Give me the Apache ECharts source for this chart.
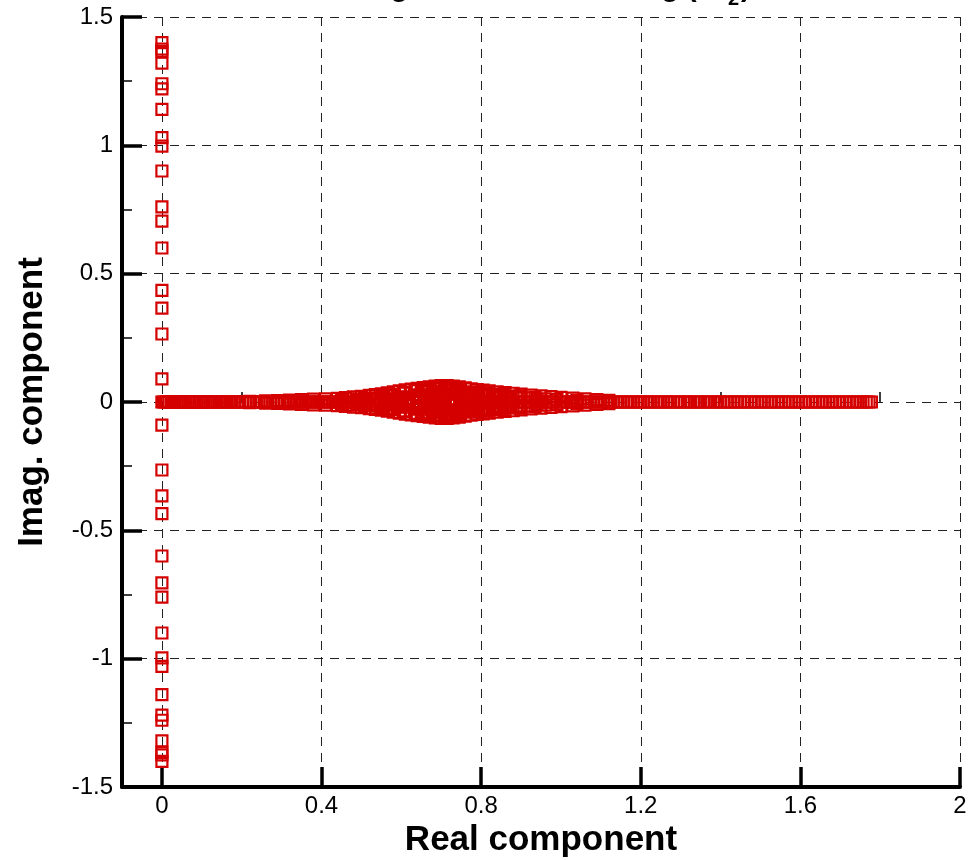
<!DOCTYPE html>
<html>
<head>
<meta charset="utf-8">
<script src="https://cdn.jsdelivr.net/npm/echarts@6/dist/echarts.min.js"></script>
<style>
  html, body { margin: 0; padding: 0; background: #fff; }
  #chart { width: 980px; height: 860px; }
</style>
</head>
<body>
<div id="chart"></div>
<script>
// Axis tick positions
const xTicks = [0, 0.4, 0.8, 1.2, 1.6, 2];
const xMinorTicks = [0.2, 0.6, 1.0, 1.4, 1.8];

// Purely imaginary eigenvalues (conjugate pairs, real part 0): positive imaginary parts
const imagAxisValues = [0.09, 0.265, 0.366, 0.435, 0.60, 0.705, 0.76, 0.90, 0.997, 1.03,
  1.14, 1.22, 1.24, 1.32, 1.365, 1.375, 1.40];

// Real eigenvalues (imaginary part 0)
const realAxisValues = [
  0, 0.004, 0.009, 0.013, 0.018, 0.024, 0.029, 0.033, 0.038, 0.044, 0.049, 0.055, 0.06, 0.066, 0.071, 0.077, 0.082, 0.088, 0.093, 0.098,
  0.104, 0.11, 0.115, 0.121, 0.127, 0.132, 0.138, 0.145, 0.151, 0.157, 0.163, 0.17, 0.176, 0.182, 0.189, 0.195,
  0.202, 0.209, 0.216, 0.222, 0.229, 0.236, 0.243, 0.25, 0.257, 0.264, 0.271, 0.279, 0.286, 0.293,
  0.301, 0.308, 0.316, 0.323, 0.331, 0.339, 0.346, 0.354, 0.362, 0.37, 0.378, 0.386, 0.394,
  0.402, 0.41, 0.418, 0.427, 0.435, 0.443, 0.452, 0.46, 0.469, 0.477, 0.486, 0.495,
  0.503, 0.512, 0.521, 0.53, 0.539, 0.548, 0.557, 0.566, 0.575, 0.584, 0.593,
  0.602, 0.611, 0.62, 0.629, 0.638, 0.647, 0.656, 0.665, 0.674, 0.683, 0.692,
  0.701, 0.71, 0.719, 0.728, 0.737, 0.746, 0.755, 0.764, 0.773, 0.782, 0.791,
  0.8, 0.809, 0.818, 0.827, 0.836, 0.845, 0.854, 0.863, 0.872, 0.881, 0.89, 0.899,
  0.908, 0.917, 0.926, 0.935, 0.944, 0.953, 0.962, 0.971, 0.98, 0.989, 0.998,
  1.007, 1.015, 1.024, 1.032, 1.041, 1.049, 1.058, 1.066, 1.075, 1.083, 1.092,
  1.1, 1.108, 1.117, 1.125, 1.133, 1.142, 1.15, 1.158, 1.167, 1.175, 1.183, 1.192,
  1.2, 1.208, 1.217, 1.225, 1.233, 1.242, 1.25, 1.258, 1.267, 1.275, 1.283, 1.292,
  1.3, 1.309, 1.317, 1.325, 1.334, 1.342, 1.35, 1.359, 1.367, 1.375, 1.384, 1.392,
  1.4, 1.409, 1.417, 1.426, 1.434, 1.443, 1.451, 1.46, 1.468, 1.477, 1.485, 1.494,
  1.502, 1.511, 1.519, 1.528, 1.536, 1.545, 1.553, 1.562, 1.57, 1.579, 1.587, 1.596,
  1.604, 1.613, 1.621, 1.63, 1.638, 1.647, 1.655, 1.664, 1.672, 1.681, 1.689, 1.698,
  1.706, 1.715, 1.723, 1.732, 1.74, 1.749, 1.757, 1.765, 1.772, 1.778
];

// Complex eigenvalues around 0.7 (conjugate pairs): real parts and positive imaginary parts
const lensReal = [
  0.22, 0.26, 0.29, 0.32, 0.35, 0.38, 0.41, 0.44, 0.46, 0.48, 0.50, 0.52, 0.535, 0.55, 0.565,
  0.58, 0.595, 0.61, 0.625, 0.64, 0.655, 0.67, 0.685, 0.70, 0.715, 0.73, 0.745, 0.76, 0.775,
  0.79, 0.805, 0.82, 0.84, 0.86, 0.88, 0.90, 0.925, 0.95, 0.975, 1.00, 1.03, 1.06, 1.09, 1.12,
  0.56, 0.60, 0.62, 0.64, 0.66, 0.68, 0.69, 0.70, 0.71, 0.72, 0.73, 0.74, 0.75, 0.76, 0.78,
  0.79, 0.81, 0.83, 0.85, 0.87, 0.90, 0.94, 0.66, 0.74, 0.58, 0.54, 0.50,
  0.45, 0.47, 0.49, 0.51, 0.53, 0.57, 0.59, 0.61, 0.63, 0.65, 0.67, 0.695, 0.705, 0.725,
  0.735, 0.755, 0.77, 0.785, 0.80, 0.82, 0.845, 0.865, 0.89, 0.915, 0.96, 0.99, 1.04,
  0.555, 0.575, 0.605, 0.615, 0.635, 0.645, 0.665, 0.675, 0.688, 0.698, 0.708, 0.718,
  0.728, 0.748, 0.765, 0.795, 0.815, 0.835, 0.855, 0.875, 0.895, 0.935
];
const lensImag = [
  0.003, 0.004, 0.005, 0.007, 0.009, 0.011, 0.012, 0.014, 0.017, 0.020, 0.022, 0.026, 0.029, 0.032, 0.036,
  0.040, 0.043, 0.047, 0.050, 0.053, 0.056, 0.059, 0.062, 0.064, 0.064, 0.062, 0.059, 0.055, 0.051,
  0.048, 0.046, 0.043, 0.040, 0.037, 0.034, 0.031, 0.027, 0.024, 0.021, 0.018, 0.015, 0.012, 0.009, 0.006,
  0.012, 0.020, 0.008, 0.028, 0.016, 0.036, 0.010, 0.042, 0.024, 0.046, 0.012, 0.034, 0.020, 0.040, 0.028,
  0.014, 0.030, 0.018, 0.024, 0.012, 0.016, 0.010, 0.044, 0.048, 0.024, 0.016, 0.010,
  0.008, 0.012, 0.006, 0.015, 0.010, 0.026, 0.018, 0.034, 0.014, 0.040, 0.022, 0.052, 0.030, 0.054,
  0.044, 0.030, 0.036, 0.022, 0.034, 0.026, 0.030, 0.022, 0.020, 0.016, 0.012, 0.010, 0.006,
  0.022, 0.030, 0.038, 0.014, 0.044, 0.022, 0.050, 0.030, 0.054, 0.020, 0.056, 0.032,
  0.050, 0.044, 0.026, 0.040, 0.036, 0.028, 0.032, 0.020, 0.024, 0.018
];

// Assemble eigenvalue points (real, imag)
const points = [];
imagAxisValues.forEach(v => { points.push([0, v]); points.push([0, -v]); });
realAxisValues.forEach(r => points.push([r, 0]));
lensReal.forEach((r, i) => {
  points.push([r, lensImag[i]]);
  points.push([r, -lensImag[i]]);
});

const FONT = '"Liberation Sans", Arial, Helvetica, sans-serif';
const TICK_FONT = '"Liberation Sans Narrow", "Arial Narrow", "Liberation Sans", Arial, sans-serif';
const RED = '#d40000';

// Title pieces: main text, subscript and closing parenthesis, placed by measured width
const titleMain = 'Eigenvalues of Scaling (P';
const titleSub = '2';
const titleEnd = ')';
const measure = document.createElement('canvas').getContext('2d');
measure.font = 'bold 29px ' + FONT;
const wMain = measure.measureText(titleMain).width;
measure.font = 'bold 20px ' + FONT;
const wSub = measure.measureText(titleSub).width;
const titleX = 363;
const subShift = 12;

const chart = echarts.init(document.getElementById('chart'), null, { renderer: 'canvas' });

const axisTextStyle = { color: '#000', fontFamily: TICK_FONT, fontSize: 24 };
const nameStyle = { color: '#000', fontFamily: FONT, fontSize: 35, fontWeight: 'bold' };
const gridDash = { show: true, lineStyle: { color: '#222', width: 1, type: [9, 7] } };

chart.setOption({
  backgroundColor: '#fff',
  animation: false,
  graphic: [
    { type: 'text', x: titleX, y: -12, style: { text: titleMain, font: 'bold 29px ' + FONT, fill: '#000', verticalAlign: 'middle', align: 'left' } },
    { type: 'text', x: titleX + wMain + subShift, y: -1, style: { text: titleSub, font: 'bold 20px ' + FONT, fill: '#000', verticalAlign: 'middle', align: 'left' } },
    { type: 'text', x: titleX + wMain + subShift + wSub + 2, y: -12, style: { text: titleEnd, font: 'bold 29px ' + FONT, fill: '#000', verticalAlign: 'middle', align: 'left' } }
  ],
  grid: { left: 122, right: 20, top: 17, bottom: 73, containLabel: false, outerBoundsMode: 'none' },
  xAxis: [
    {
      type: 'value',
      min: -0.1,
      max: 2,
      name: 'Real component',
      nameLocation: 'middle',
      nameGap: 34,
      nameTextStyle: nameStyle,
      axisLine: { show: true, onZero: false, lineStyle: { color: '#000', width: 4 } },
      axisTick: { show: true, inside: true, length: 20, customValues: xTicks, lineStyle: { color: '#000', width: 3.5 } },
      axisLabel: { show: true, customValues: xTicks, margin: 7, ...axisTextStyle },
      splitLine: gridDash
    },
    {
      type: 'value',
      min: -0.1,
      max: 2,
      position: 'bottom',
      axisLine: { show: false },
      axisTick: { show: true, inside: true, length: 10, customValues: xMinorTicks, lineStyle: { color: '#000', width: 1.5 } },
      axisLabel: { show: false },
      splitLine: { show: false }
    }
  ],
  yAxis: {
    type: 'value',
    min: -1.5,
    max: 1.5,
    interval: 0.5,
    name: 'Imag. component',
    nameLocation: 'middle',
    nameRotate: 90,
    nameGap: 72,
    nameTextStyle: nameStyle,
    axisLine: { show: true, onZero: false, lineStyle: { color: '#000', width: 4 } },
    axisTick: { show: true, inside: true, length: 20, lineStyle: { color: '#000', width: 3.5 } },
    minorTick: { show: true, splitNumber: 2, length: 10, lineStyle: { color: '#000', width: 1.5 } },
    axisLabel: { margin: 9, ...axisTextStyle },
    splitLine: gridDash
  },
  series: [{
    type: 'scatter',
    xAxisIndex: 0,
    symbol: 'rect',
    symbolSize: 11,
    large: false,
    progressive: 0,
    itemStyle: { color: 'rgba(0,0,0,0)', borderColor: RED, borderWidth: 2.2, opacity: 1 },
    emphasis: { disabled: true },
    data: points
  }]
});
</script>
</body>
</html>
